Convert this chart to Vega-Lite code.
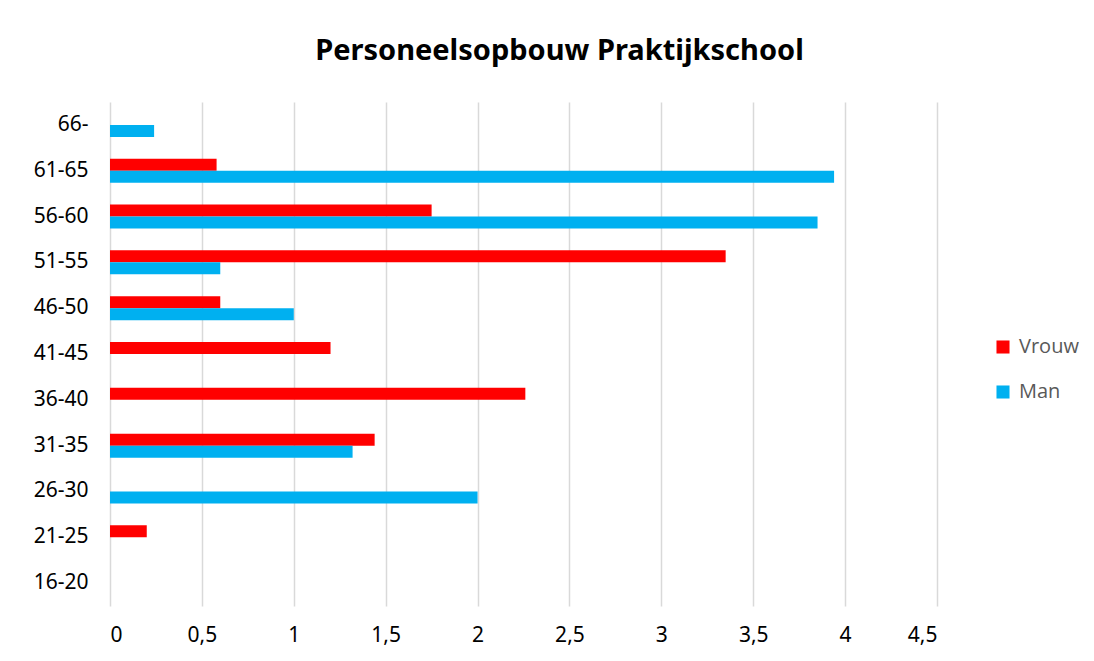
{
  "$schema": "https://vega.github.io/schema/vega-lite/v6.json",
  "autosize": "none",
  "width": 827,
  "height": 504,
  "padding": {"left": 110, "top": 102, "right": 157, "bottom": 55},
  "background": "white",
  "title": {
    "text": "Personeelsopbouw Praktijkschool",
    "font": "Noto Sans",
    "fontSize": 29,
    "fontWeight": "bold",
    "color": "#000000",
    "anchor": "middle",
    "dx": 36,
    "offset": 36
  },
  "data": {
    "values": [
      {"leeftijd": "66-", "geslacht": "Man", "aantal": 0.24},
      {"leeftijd": "61-65", "geslacht": "Vrouw", "aantal": 0.58},
      {"leeftijd": "61-65", "geslacht": "Man", "aantal": 3.94},
      {"leeftijd": "56-60", "geslacht": "Vrouw", "aantal": 1.75},
      {"leeftijd": "56-60", "geslacht": "Man", "aantal": 3.85},
      {"leeftijd": "51-55", "geslacht": "Vrouw", "aantal": 3.35},
      {"leeftijd": "51-55", "geslacht": "Man", "aantal": 0.6},
      {"leeftijd": "46-50", "geslacht": "Vrouw", "aantal": 0.6},
      {"leeftijd": "46-50", "geslacht": "Man", "aantal": 1.0},
      {"leeftijd": "41-45", "geslacht": "Vrouw", "aantal": 1.2},
      {"leeftijd": "36-40", "geslacht": "Vrouw", "aantal": 2.26},
      {"leeftijd": "31-35", "geslacht": "Vrouw", "aantal": 1.44},
      {"leeftijd": "31-35", "geslacht": "Man", "aantal": 1.32},
      {"leeftijd": "26-30", "geslacht": "Man", "aantal": 2.0},
      {"leeftijd": "21-25", "geslacht": "Vrouw", "aantal": 0.2}
    ]
  },
  "mark": {"type": "bar"},
  "encoding": {
    "y": {
      "field": "leeftijd",
      "type": "nominal",
      "scale": {
        "domain": ["66-", "61-65", "56-60", "51-55", "46-50", "41-45", "36-40", "31-35", "26-30", "21-25", "16-20"],
        "paddingInner": 0.476,
        "paddingOuter": 0.238
      },
      "axis": {
        "title": null,
        "ticks": false,
        "domain": false,
        "grid": false,
        "labelFont": "Noto Sans",
        "labelFontSize": 21,
        "labelColor": "#000000",
        "labelPadding": 22
      }
    },
    "yOffset": {
      "field": "geslacht",
      "type": "nominal",
      "scale": {"domain": ["Vrouw", "Man"], "paddingInner": 0, "paddingOuter": 0}
    },
    "x": {
      "field": "aantal",
      "type": "quantitative",
      "scale": {"domain": [0, 4.5], "nice": false, "zero": true},
      "axis": {
        "title": null,
        "values": [0, 0.5, 1, 1.5, 2, 2.5, 3, 3.5, 4, 4.5],
        "labelExpr": "replace(format(datum.value, '~g'), '.', ',')",
        "ticks": false,
        "domain": false,
        "grid": true,
        "gridColor": "#d9d9d9",
        "gridWidth": 1.5,
        "labelFont": "Noto Sans",
        "labelFontSize": 21,
        "labelColor": "#000000",
        "labelPadding": 18
      }
    },
    "color": {
      "field": "geslacht",
      "type": "nominal",
      "scale": {"domain": ["Vrouw", "Man"], "range": ["#FF0000", "#00B0F0"]},
      "legend": {
        "title": null,
        "orient": "none",
        "legendX": 883,
        "legendY": 235,
        "symbolType": "square",
        "symbolSize": 170,
        "symbolStrokeWidth": 0,
        "labelFont": "Open Sans",
        "labelFontSize": 20,
        "labelColor": "#595959",
        "labelOffset": 6,
        "rowPadding": 25
      }
    }
  },
  "config": {
    "view": {"stroke": null}
  }
}
